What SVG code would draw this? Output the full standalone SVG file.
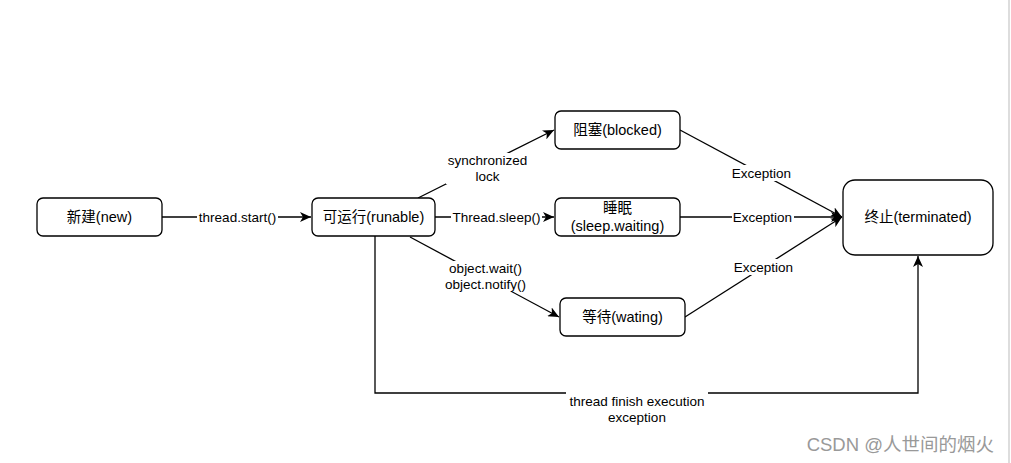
<svg xmlns="http://www.w3.org/2000/svg" width="1011" height="463" viewBox="0 0 1011 463">
<style>
.node rect{fill:#fff;stroke:#000;stroke-width:1.3}
.nt{font-family:"Liberation Sans",Arial,"Noto Sans CJK SC",sans-serif;font-size:14.5px;fill:#000;text-anchor:middle}
.lt{font-family:"Liberation Sans",Arial,"Noto Sans CJK SC",sans-serif;font-size:13.5px;fill:#000;text-anchor:middle}
.e{fill:none;stroke:#000;stroke-width:1.3}
.bg{fill:#fff}
</style>
<defs>
<marker id="arr" markerUnits="userSpaceOnUse" markerWidth="12" markerHeight="10" refX="11" refY="5" orient="auto">
<path d="M0,0 L11,5 L0,10 L3,5 Z" fill="#000"/>
</marker>
</defs>
<rect x="0" y="0" width="1011" height="463" fill="#fff"/>
<line x1="1009" y1="0" x2="1009" y2="463" stroke="#ddd" stroke-width="2"/>
<g id="connectors">
<line class="e" x1="162" y1="217" x2="311" y2="217" marker-end="url(#arr)"/>
<line class="e" x1="418" y1="198" x2="554" y2="130" marker-end="url(#arr)"/>
<line class="e" x1="435" y1="217" x2="554" y2="217" marker-end="url(#arr)"/>
<line class="e" x1="410" y1="237" x2="559" y2="317" marker-end="url(#arr)"/>
<line class="e" x1="680" y1="130" x2="842" y2="217" marker-end="url(#arr)"/>
<line class="e" x1="680" y1="217" x2="842" y2="217" marker-end="url(#arr)"/>
<line class="e" x1="685" y1="317" x2="842" y2="217" marker-end="url(#arr)"/>
<polyline class="e" points="375,236 375,393 918,393 918,256" marker-end="url(#arr)"/>
<rect class="bg" x="197" y="209" width="81" height="16"/>
<text class="lt" x="237.5" y="221.5">thread.start()</text>
<rect class="bg" x="446" y="153" width="83" height="31"/>
<text class="lt" x="487.5" y="164.5">synchronized</text>
<text class="lt" x="487.5" y="180.5">lock</text>
<rect class="bg" x="451" y="209" width="91" height="16"/>
<text class="lt" x="496.5" y="221.5">Thread.sleep()</text>
<rect class="bg" x="442" y="261" width="87" height="31"/>
<text class="lt" x="485.5" y="273">object.wait()</text>
<text class="lt" x="485.5" y="289">object.notify()</text>
<rect class="bg" x="731" y="165" width="62" height="16"/>
<text class="lt" x="761.5" y="177.5">Exception</text>
<rect class="bg" x="732" y="209" width="62" height="16"/>
<text class="lt" x="762.5" y="221.5">Exception</text>
<rect class="bg" x="733" y="259" width="62" height="16"/>
<text class="lt" x="763.5" y="271.5">Exception</text>
<rect class="bg" x="566" y="392" width="142" height="32"/>
<text class="lt" x="637" y="405.5">thread finish execution</text>
<text class="lt" x="637" y="421.5">exception</text>
</g>
<g id="n-new" class="node">
<rect x="37" y="198" width="125" height="38" rx="6"/>
<text class="nt" x="99.5" y="222">新建(new)</text>
</g>
<g id="n-runnable" class="node">
<rect x="312" y="198" width="123" height="38" rx="6"/>
<text class="nt" x="373.5" y="222">可运行(runable)</text>
</g>
<g id="n-blocked" class="node">
<rect x="555" y="111" width="125" height="38" rx="6"/>
<text class="nt" x="617.5" y="135">阻塞(blocked)</text>
</g>
<g id="n-sleep" class="node">
<rect x="555" y="198" width="125" height="38" rx="6"/>
<text class="nt" x="617.5" y="213">睡眠</text>
<text class="nt" x="617.5" y="231">(sleep.waiting)</text>
</g>
<g id="n-waiting" class="node">
<rect x="560" y="298" width="125" height="38" rx="6"/>
<text class="nt" x="622.5" y="322">等待(wating)</text>
</g>
<g id="n-terminated" class="node">
<rect x="843" y="180" width="150" height="75" rx="12"/>
<text class="nt" x="918" y="222">终止(terminated)</text>
</g>
<text x="994" y="451" text-anchor="end" font-family="'Liberation Sans',Arial,'Noto Sans CJK SC',sans-serif" font-size="18.5" fill="#999">CSDN @人世间的烟火</text>
</svg>
